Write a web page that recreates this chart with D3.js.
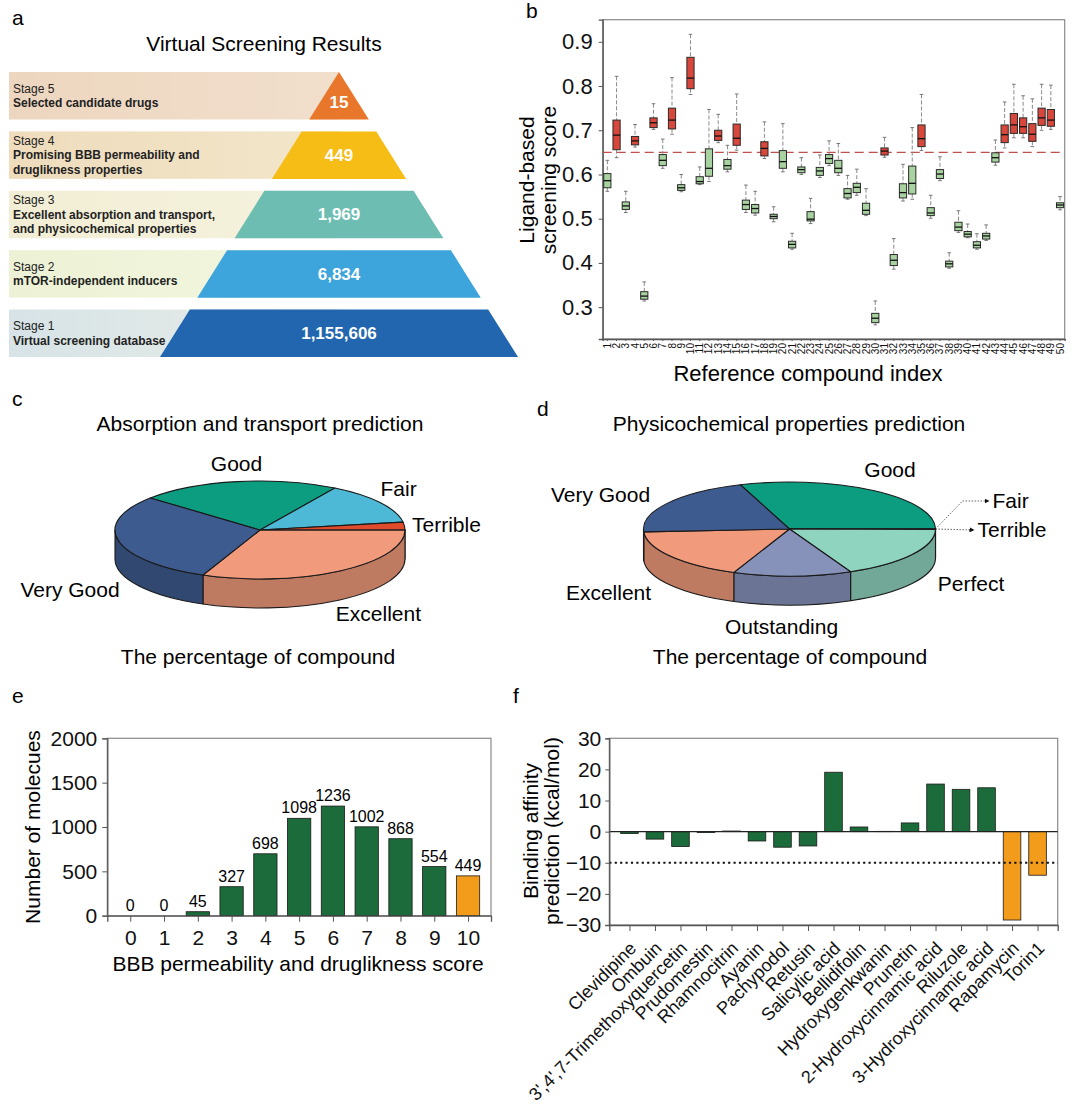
<!DOCTYPE html>
<html>
<head>
<meta charset="utf-8">
<script src="https://cdn.jsdelivr.net/npm/d3@7"></script>
<style>
  body { margin: 0; background: #fff; }
  svg { font-family: "Liberation Sans", Arial, sans-serif; }
</style>
</head>
<body>
<svg id="fig" width="1071" height="1117"></svg>
<script>
// ---------- data ----------

// a: screening funnel (top stage first)
var stages = ['Stage 5', 'Stage 4', 'Stage 3', 'Stage 2', 'Stage 1'];
var stageText = [
  ['Selected candidate drugs'],
  ['Promising BBB permeability and', 'druglikness properties'],
  ['Excellent absorption and transport,', 'and physicochemical properties'],
  ['mTOR-independent inducers'],
  ['Virtual screening database']
];
var stageCounts = [15, 449, 1969, 6834, 1155606];

// b: ligand-based screening score per reference compound
var compoundIndex = d3.range(1, 51);
var scoreMin = [.562,.638,.514,.662,.314,.702,.614,.691,.561,.781,.577,.584,.672,.606,.655,.514,.508,.636,.493,.606,.431,.600,.489,.593,.620,.598,.544,.553,.507,.260,.639,.386,.540,.544,.654,.501,.586,.388,.469,.457,.431,.451,.621,.660,.683,.683,.663,.700,.702,.520];
var scoreQ1  = [.570,.656,.521,.667,.318,.706,.620,.703,.564,.794,.579,.596,.677,.612,.666,.521,.513,.642,.500,.614,.434,.604,.495,.598,.625,.604,.547,.559,.510,.265,.644,.394,.547,.556,.663,.507,.591,.391,.473,.459,.434,.454,.628,.672,.693,.693,.675,.711,.709,.525];
var scoreMed = [.586,.689,.529,.676,.325,.717,.632,.723,.570,.818,.584,.614,.687,.620,.682,.532,.523,.659,.505,.629,.442,.611,.499,.608,.636,.614,.557,.571,.519,.275,.653,.406,.559,.580,.681,.513,.601,.398,.481,.465,.440,.461,.638,.690,.712,.708,.691,.728,.723,.531];
var scoreQ3  = [.602,.723,.538,.686,.335,.728,.645,.750,.577,.865,.595,.658,.700,.634,.714,.542,.532,.674,.510,.654,.449,.617,.516,.616,.645,.632,.568,.580,.535,.286,.660,.419,.579,.619,.712,.525,.611,.404,.492,.471,.448,.467,.649,.712,.738,.728,.715,.750,.747,.536];
var scoreMax = [.632,.822,.562,.713,.357,.760,.680,.819,.600,.917,.617,.747,.736,.666,.782,.576,.562,.719,.527,.715,.467,.638,.546,.644,.676,.670,.598,.612,.568,.314,.684,.455,.623,.706,.781,.553,.640,.423,.518,.488,.466,.486,.678,.764,.804,.778,.771,.804,.802,.550];
var scoreCutoff = 0.65;
var scoreTicks = [0.3, 0.4, 0.5, 0.6, 0.7, 0.8, 0.9];

// c, d: 3D pies (percent of compounds), clockwise order
var absLabels = ['Good', 'Fair', 'Terrible', 'Excellent', 'Very Good'];
var absShare = [22.3, 13.8, 2.6, 31.4, 29.9];
var physLabels = ['Good', 'Fair', 'Terrible', 'Perfect', 'Outstanding', 'Excellent', 'Very Good'];
var physShare = [30.4, 0.1, 0.1, 18.0, 13.1, 17.8, 20.5];

// e: BBB permeability and druglikness score
var bbbScores = d3.range(0, 11);
var bbbCounts = [0, 0, 45, 327, 698, 1098, 1236, 1002, 868, 554, 449];
var bbbTicks = [0, 500, 1000, 1500, 2000];

// f: binding affinity prediction
var drugs = ['Clevidipine', 'Ombuin', "3',4',7-Trimethoxyquercetin", 'Prudomestin', 'Rhamnocitrin',
  'Ayanin', 'Pachypodol', 'Retusin', 'Salicylic acid', 'Bellidifolin', 'Hydroxygenkwanin',
  'Prunetin', '2-Hydroxycinnamic acid', 'Riluzole', '3-Hydroxycinnamic acid', 'Rapamycin', 'Torin1'];
var affinity = [-0.6, -2.4, -4.8, -0.3, 0.2, -3.0, -5.0, -4.6, 19.1, 1.5, 0.1, 2.8, 15.3, 13.6, 14.1, -28.4, -14.0];
var controls = ['Rapamycin', 'Torin1'];
var affinityTicks = [-30, -20, -10, 0, 10, 20, 30];
var affinityCutoff = -10;

// ---------- styles ----------
var stageColors = ['#e8772b', '#f6bd17', '#6dbdb2', '#3da4dc', '#2166ae'];
var bandColors = [['#edd6bf', '#f1dfcc'], ['#eedcbc', '#f3e6ca'], ['#f2eed5', '#f5f2de'], ['#edf2d6', '#f2f6df'], ['#d7e3e7', '#e8eee6']];
var classColors = {
  'Good': '#0c9d80', 'Fair': '#4db9d6', 'Terrible': '#e04b2c', 'Excellent': '#f19a7c',
  'Very Good': '#3e5b8f', 'Outstanding': '#8792bb', 'Perfect': '#8fd4bf'
};
var green = '#1c6b3b', orange = '#f39c1c';
var font = 21;

var svg = d3.select('#fig');

function panelLetter(t, x, y) {
  svg.append('text').attr('x', x).attr('y', y).attr('font-size', font).text(t);
}
function frame(x0, x1, y0, y1) {
  svg.append('rect').attr('x', x0).attr('y', y0).attr('width', x1 - x0).attr('height', y1 - y0)
    .attr('fill', 'none').attr('stroke', '#8a8a8a').attr('stroke-width', 1.2);
}
function styleAxis(g) {
  g.select('.domain').attr('stroke', '#555').attr('stroke-width', 1.3);
  g.selectAll('.tick line').attr('stroke', '#555');
  g.selectAll('.tick text').attr('fill', '#111');
}

// ---------- a: funnel ----------
panelLetter('a', 12, 25);
svg.append('text').attr('x', 264).attr('y', 51).attr('text-anchor', 'middle')
  .attr('font-size', font).text('Virtual Screening Results');

var apexX = 339;
var rowY = d3.scaleBand().domain(stages).range([72, 357]).paddingInner(0.2);
var halfW = d3.scaleLinear().domain([72, 357]).range([0, 179]);

var defs = svg.append('defs');
stages.forEach(function(s, i) {
  var gr = defs.append('linearGradient').attr('id', 'band' + i);
  gr.append('stop').attr('offset', '0%').attr('stop-color', bandColors[i][0]);
  gr.append('stop').attr('offset', '100%').attr('stop-color', bandColors[i][1]);
});

var ga = svg.append('g');
stages.forEach(function(s, i) {
  var y0 = rowY(s), y1 = y0 + rowY.bandwidth(), cy = y0 + rowY.bandwidth() / 2;
  ga.append('rect').attr('x', 9).attr('y', y0).attr('width', apexX - 9).attr('height', rowY.bandwidth())
    .attr('fill', 'url(#band' + i + ')');
  ga.append('path')
    .attr('d', 'M' + (apexX - halfW(y0)) + ',' + y0 + 'L' + (apexX + halfW(y0)) + ',' + y0 +
      'L' + (apexX + halfW(y1)) + ',' + y1 + 'L' + (apexX - halfW(y1)) + ',' + y1 + 'Z')
    .attr('fill', stageColors[i]);
  var lines = [s].concat(stageText[i]);
  var n = lines.length;
  lines.forEach(function(t, k) {
    ga.append('text').attr('x', 13).attr('y', cy + (k - (n - 1) / 2) * 14.5 + 4.3)
      .attr('font-size', 12).attr('font-weight', k === 0 ? 'normal' : 'bold')
      .attr('fill', '#222').text(t);
  });
  ga.append('text').attr('x', apexX).attr('y', cy + (i === 0 ? 6 : 0)).attr('dy', '0.35em')
    .attr('text-anchor', 'middle').attr('font-size', 17).attr('font-weight', 'bold')
    .attr('fill', '#fff').text(d3.format(',')(stageCounts[i]));
});

// ---------- b: box plots ----------
panelLetter('b', 526, 18);
var bx = d3.scaleBand().domain(compoundIndex).range([602.7, 1064.7]);
var by = d3.scaleLinear().domain([0.228, 0.95]).range([339, 19.7]);
frame(602.7, 1064.7, 19.7, 339);

var gbAxY = svg.append('g').attr('transform', 'translate(602.7,0)')
  .call(d3.axisLeft(by).tickValues(scoreTicks).tickFormat(d3.format('.1f')).tickSize(4).tickPadding(6));
gbAxY.selectAll('text').attr('font-size', 22);
styleAxis(gbAxY);
var gbAxX = svg.append('g').attr('transform', 'translate(0,339)')
  .call(d3.axisBottom(bx).tickSize(2).tickPadding(3));
gbAxX.selectAll('text').attr('font-size', 10).attr('text-anchor', 'end')
  .attr('transform', 'rotate(-90)').attr('x', -4).attr('y', 0).attr('dy', '0.35em');
styleAxis(gbAxX);

svg.append('line').attr('x1', 602.7).attr('x2', 1064.7).attr('y1', by(scoreCutoff)).attr('y2', by(scoreCutoff))
  .attr('stroke', '#c0504d').attr('stroke-width', 1.3).attr('stroke-dasharray', '9,5');

var boxes = compoundIndex.map(function(c, i) {
  return { c: c, min: scoreMin[i], q1: scoreQ1[i], med: scoreMed[i], q3: scoreQ3[i], max: scoreMax[i] };
});
var bw = bx.bandwidth() * 0.78;
var gBox = svg.append('g').selectAll('g').data(boxes).join('g')
  .attr('transform', function(d) { return 'translate(' + (bx(d.c) + bx.bandwidth() / 2) + ',0)'; });
gBox.append('line').attr('y1', function(d) { return by(d.max); }).attr('y2', function(d) { return by(d.q3); })
  .attr('stroke', '#8a8a8a').attr('stroke-dasharray', '4,2');
gBox.append('line').attr('y1', function(d) { return by(d.q1); }).attr('y2', function(d) { return by(d.min); })
  .attr('stroke', '#8a8a8a').attr('stroke-dasharray', '4,2');
gBox.append('line').attr('x1', -1.8).attr('x2', 1.8).attr('y1', function(d) { return by(d.max); })
  .attr('y2', function(d) { return by(d.max); }).attr('stroke', '#777');
gBox.append('line').attr('x1', -1.8).attr('x2', 1.8).attr('y1', function(d) { return by(d.min); })
  .attr('y2', function(d) { return by(d.min); }).attr('stroke', '#777');
gBox.append('rect').attr('x', -bw / 2).attr('width', bw)
  .attr('y', function(d) { return by(d.q3); })
  .attr('height', function(d) { return by(d.q1) - by(d.q3); })
  .attr('fill', function(d) { return d.med >= scoreCutoff ? '#d8473b' : '#a8d3a0'; })
  .attr('stroke', '#2a2a2a').attr('stroke-width', 1);
gBox.append('line').attr('x1', -bw / 2).attr('x2', bw / 2)
  .attr('y1', function(d) { return by(d.med); }).attr('y2', function(d) { return by(d.med); })
  .attr('stroke', '#111').attr('stroke-width', 1.3);

svg.append('text').attr('transform', 'translate(527,180) rotate(-90)').attr('dy', '0.35em')
  .attr('text-anchor', 'middle').attr('font-size', font).text('Ligand-based');
svg.append('text').attr('transform', 'translate(549,180) rotate(-90)').attr('dy', '0.35em')
  .attr('text-anchor', 'middle').attr('font-size', font).text('screening score');
svg.append('text').attr('x', 808).attr('y', 381).attr('text-anchor', 'middle')
  .attr('font-size', 22).text('Reference compound index');

// ---------- c, d: 3D pies ----------
function pie3d(labels, shares, o) {
  var data = labels.map(function(l, i) { return { label: l, value: shares[i] }; });
  var arcs = d3.pie().sort(null).value(function(d) { return d.value; })
    .startAngle(o.start).endAngle(o.start + 2 * Math.PI)(data);
  var pt = function(a, dy) { return [o.cx + o.rx * Math.sin(a), o.cy - o.ry * Math.cos(a) + (dy || 0)]; };
  var g = svg.append('g');
  var sides = [];
  arcs.forEach(function(a) {
    [-1, 0, 1].forEach(function(k) {
      var s = Math.max(a.startAngle, Math.PI / 2 + 2 * Math.PI * k);
      var e = Math.min(a.endAngle, 3 * Math.PI / 2 + 2 * Math.PI * k);
      if (e > s) sides.push({ d: a.data, s: s, e: e });
    });
  });
  g.selectAll('path.side').data(sides).join('path').attr('class', 'side')
    .attr('d', function(p) {
      var a = pt(p.s), b = pt(p.e), b2 = pt(p.e, o.depth), a2 = pt(p.s, o.depth);
      return 'M' + a + 'A' + o.rx + ',' + o.ry + ' 0 0 1 ' + b + 'L' + b2 +
        'A' + o.rx + ',' + o.ry + ' 0 0 0 ' + a2 + 'Z';
    })
    .attr('fill', function(p) { return d3.rgb(classColors[p.d.label]).darker(0.65); })
    .attr('stroke', '#1a1a1a').attr('stroke-width', 1.1).attr('stroke-linejoin', 'round');
  g.selectAll('path.top').data(arcs).join('path').attr('class', 'top')
    .attr('d', function(a) {
      var large = a.endAngle - a.startAngle > Math.PI ? 1 : 0;
      return 'M' + o.cx + ',' + o.cy + 'L' + pt(a.startAngle) + 'A' + o.rx + ',' + o.ry +
        ' 0 ' + large + ' 1 ' + pt(a.endAngle) + 'Z';
    })
    .attr('fill', function(a) { return classColors[a.data.label]; })
    .attr('stroke', '#1a1a1a').attr('stroke-width', 1.1).attr('stroke-linejoin', 'round');
  Object.keys(o.labels).forEach(function(l) {
    var p = o.labels[l];
    g.append('text').attr('x', o.cx + p[0]).attr('y', o.cy + p[1]).attr('dy', '0.35em')
      .attr('text-anchor', p[2] || 'middle').attr('font-size', font).text(l);
  });
  return g;
}

panelLetter('c', 12, 406);
svg.append('text').attr('x', 260).attr('y', 431).attr('text-anchor', 'middle')
  .attr('font-size', font).text('Absorption and transport prediction');
pie3d(absLabels, absShare, {
  cx: 260, cy: 530, rx: 145, ry: 49, depth: 29, start: -49.2 * Math.PI / 180,
  labels: {
    'Good': [-23.5, -66], 'Fair': [138.6, -41], 'Terrible': [152, -5, 'start'],
    'Very Good': [-190, 60], 'Excellent': [118.4, 84]
  }
});
svg.append('text').attr('x', 258).attr('y', 657).attr('dy', '0.35em').attr('text-anchor', 'middle')
  .attr('font-size', font).text('The percentage of compound');

panelLetter('d', 537, 416);
svg.append('text').attr('x', 789).attr('y', 431).attr('text-anchor', 'middle')
  .attr('font-size', font).text('Physicochemical properties prediction');
var dPie = { cx: 789.5, cy: 529, rx: 146, ry: 47, depth: 29, start: -19.7 * Math.PI / 180,
  labels: {
    'Good': [100.5, -59], 'Very Good': [-189, -34], 'Excellent': [-181, 64],
    'Outstanding': [-8, 98], 'Perfect': [181.5, 55],
    'Fair': [203, -28, 'start'], 'Terrible': [188, 1, 'start']
  } };
// tiny slices get callout arrows
defs.append('marker').attr('id', 'arr').attr('viewBox', '0 0 10 10').attr('refX', 10).attr('refY', 5)
  .attr('markerWidth', 5).attr('markerHeight', 5).attr('orient', 'auto')
  .append('path').attr('d', 'M0,0L10,5L0,10Z').attr('fill', '#111');
var ex0 = dPie.cx + dPie.rx, ey0 = dPie.cy;
svg.append('path').attr('d', 'M' + ex0 + ',' + ey0 + 'L' + (dPie.cx + 173) + ',' + (dPie.cy - 28) + 'L' + (dPie.cx + 200) + ',' + (dPie.cy - 28))
  .attr('fill', 'none').attr('stroke', '#666').attr('stroke-width', 1).attr('stroke-dasharray', '1.5,1.5')
  .attr('marker-end', 'url(#arr)');
svg.append('path').attr('d', 'M' + ex0 + ',' + ey0 + 'L' + (dPie.cx + 185) + ',' + (dPie.cy + 1))
  .attr('fill', 'none').attr('stroke', '#666').attr('stroke-width', 1).attr('stroke-dasharray', '1.5,1.5')
  .attr('marker-end', 'url(#arr)');
pie3d(physLabels, physShare, dPie);
svg.append('text').attr('x', 790).attr('y', 657).attr('dy', '0.35em').attr('text-anchor', 'middle')
  .attr('font-size', font).text('The percentage of compound');

// ---------- e: BBB score histogram ----------
panelLetter('e', 12, 703);
var ex = d3.scalePoint().domain(bbbScores).range([107.3, 491]).padding(0.68);
var ey = d3.scaleLinear().domain([0, 2000]).range([915.7, 738.3]);
frame(107.3, 491, 738.3, 915.7);
var ebw = ex.step() * 0.69;
svg.append('g').selectAll('rect').data(bbbScores).join('rect')
  .attr('x', function(d) { return ex(d) - ebw / 2; }).attr('width', ebw)
  .attr('y', function(d) { return ey(bbbCounts[d]); })
  .attr('height', function(d) { return ey(0) - ey(bbbCounts[d]); })
  .attr('fill', function(d) { return d === 10 ? orange : green; })
  .attr('stroke', '#1a1a1a').attr('stroke-width', 0.8);
svg.append('g').selectAll('text').data(bbbScores).join('text')
  .attr('x', function(d) { return ex(d); }).attr('y', function(d) { return ey(bbbCounts[d]) - 5; })
  .attr('text-anchor', 'middle').attr('font-size', 16).text(function(d) { return bbbCounts[d]; });
var geY = svg.append('g').attr('transform', 'translate(107.3,0)')
  .call(d3.axisLeft(ey).tickValues(bbbTicks).tickFormat(d3.format('d')).tickSize(5).tickPadding(5));
geY.selectAll('text').attr('font-size', font);
styleAxis(geY);
var geX = svg.append('g').attr('transform', 'translate(0,915.7)')
  .call(d3.axisBottom(ex).tickSize(6).tickPadding(8));
geX.selectAll('text').attr('font-size', font);
styleAxis(geX);
svg.append('text').attr('transform', 'translate(33,827) rotate(-90)').attr('dy', '0.35em')
  .attr('text-anchor', 'middle').attr('font-size', font).text('Number of molecues');
svg.append('text').attr('x', 298).attr('y', 971).attr('text-anchor', 'middle')
  .attr('font-size', font).text('BBB permeability and druglikness score');

// ---------- f: binding affinity ----------
panelLetter('f', 513, 703);
var fx = d3.scalePoint().domain(drugs).range([609.3, 1057.7]).padding(0.79);
var fy = d3.scaleLinear().domain([-30, 30]).range([925, 738.3]);
frame(609.3, 1057.7, 738.3, 925);
var fbw = fx.step() * 0.69;
svg.append('g').selectAll('rect').data(drugs).join('rect')
  .attr('x', function(d) { return fx(d) - fbw / 2; }).attr('width', fbw)
  .attr('y', function(d, i) { return fy(Math.max(0, affinity[i])); })
  .attr('height', function(d, i) { return Math.abs(fy(affinity[i]) - fy(0)); })
  .attr('fill', function(d) { return controls.indexOf(d) >= 0 ? orange : green; })
  .attr('stroke', '#1a1a1a').attr('stroke-width', 0.8);
svg.append('line').attr('x1', 609.3).attr('x2', 1057.7).attr('y1', fy(0)).attr('y2', fy(0))
  .attr('stroke', '#222').attr('stroke-width', 1.3);
svg.append('line').attr('x1', 609.3).attr('x2', 1057.7).attr('y1', fy(affinityCutoff)).attr('y2', fy(affinityCutoff))
  .attr('stroke', '#111').attr('stroke-width', 2.2).attr('stroke-dasharray', '2.2,3.2');
var gfY = svg.append('g').attr('transform', 'translate(609.3,0)')
  .call(d3.axisLeft(fy).tickValues(affinityTicks).tickSize(4).tickPadding(4));
gfY.selectAll('text').attr('font-size', font);
styleAxis(gfY);
var gfX = svg.append('g').attr('transform', 'translate(0,925)')
  .call(d3.axisBottom(fx).tickSize(6).tickPadding(0));
gfX.selectAll('text').attr('font-size', 18).attr('text-anchor', 'end').attr('dy', '0.35em')
  .attr('y', 0).attr('transform', 'translate(3,20) rotate(-45)');
styleAxis(gfX);
svg.append('text').attr('transform', 'translate(531,831) rotate(-90)').attr('dy', '0.35em')
  .attr('text-anchor', 'middle').attr('font-size', font).text('Binding affinity');
svg.append('text').attr('transform', 'translate(552,831) rotate(-90)').attr('dy', '0.35em')
  .attr('text-anchor', 'middle').attr('font-size', font).text('prediction (kcal/mol)');
</script>
</body>
</html>
